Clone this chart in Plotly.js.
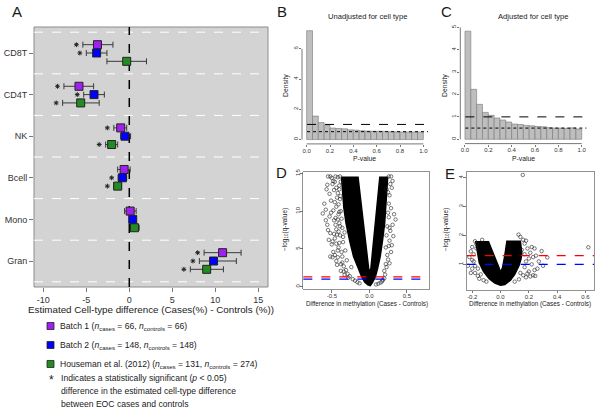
<!DOCTYPE html>
<html><head><meta charset="utf-8">
<script src="https://cdn.plot.ly/plotly-3.0.1.min.js"></script>
<style>html,body{margin:0;padding:0;background:#fff;} #chart{width:600px;height:413px;}</style>
</head><body><div id="chart"></div>
<script>
// ---------- Panel A data ----------
const cellTypes = ['CD8T','CD4T','NK','Bcell','Mono','Gran'];
const batch1Est = [-3.7, -5.85, -1.0, -0.6, 0.1, 10.85];
const batch1Lo  = [-5.4, -7.6, -1.8, -1.35, -0.55, 8.7];
const batch1Hi  = [-1.9, -4.15, -0.3, 0.1, 0.8, 13.0];
const batch1Sig = [1, 1, 1, 0, 0, 1];
const batch2Est = [-3.8, -4.1, -0.5, -0.8, 0.4, 9.8];
const batch2Lo  = [-5.0, -5.3, -1.0, -1.3, 0.05, 8.15];
const batch2Hi  = [-2.6, -2.9, 0.15, -0.3, 0.8, 12.45];
const batch2Sig = [1, 1, 0, 1, 0, 1];
const housEst = [-0.3, -5.65, -2.05, -1.35, 0.6, 9.0];
const housLo  = [-2.6, -7.75, -2.75, -1.8, 0.15, 7.1];
const housHi  = [2.0, -3.5, -1.35, -0.9, 1.15, 10.95];
const housSig = [0, 1, 1, 1, 0, 1];
const seriesNames = ['Batch 1','Batch 2','Houseman et al. (2012)'];
const seriesColors = ['#a020f0','#0000ff','#228b22'];
const nCases = [66, 148, 131];
const nControls = [66, 148, 274];

// ---------- Panels B, C data (p-value histograms) ----------
const binMid = [0.025,0.075,0.125,0.175,0.225,0.275,0.325,0.375,0.425,0.475,0.525,0.575,0.625,0.675,0.725,0.775,0.825,0.875,0.925,0.975];
const unadjDensity = [7.2, 1.55, 1.12, 0.95, 0.76, 0.73, 0.71, 0.64, 0.62, 0.58, 0.56, 0.55, 0.55, 0.54, 0.52, 0.51, 0.50, 0.50, 0.50, 0.49];
const adjDensity   = [4.83, 2.23, 1.56, 1.2, 1.07, 0.95, 0.86, 0.77, 0.68, 0.66, 0.62, 0.6, 0.57, 0.56, 0.52, 0.5, 0.5, 0.49, 0.51, 0.46];
const unadjPi0 = 0.52;
const adjPi0 = 0.5;

// ---------- Panels D, E data (volcano) ----------
const dDenseX = [-0.013,-0.06,-0.10,-0.15,-0.21,-0.26,-0.31,-0.34,-0.36,-0.37,-0.15,-0.121,-0.092,-0.068,-0.045,-0.023,-0.005,0.02,0.037,0.056,0.081,0.106,0.14,0.245,0.225,0.205,0.175,0.145,0.11,0.08,0.045,0.013,-0.013];
const dDenseY = [0.22,0.6,1.3,2.5,4.0,6.0,8.4,10.5,12.5,14.5,14.5,12.0,9.5,7.5,5.5,3.6,2.1,2.3,4.0,6.0,8.5,11.0,14.5,14.5,11.5,8.4,6.0,4.0,2.4,1.3,0.6,0.15,0.22];
const dOutX = [-0.62,-0.58,-0.55,-0.53,-0.51,-0.56,-0.52,-0.49,-0.47,-0.50,-0.48,-0.46,-0.45,-0.44,-0.43,-0.46,-0.42,-0.44,-0.41,-0.42,-0.40,-0.40,-0.39,-0.38,-0.37,-0.36,-0.35,-0.34,-0.36,-0.41,-0.47,-0.53,-0.31,-0.29,-0.26,-0.24,-0.22,-0.19,-0.16,-0.13,-0.45,-0.39,-0.50,-0.57,-0.60,-0.54,-0.49,-0.43,-0.38,-0.33,
  -0.44,-0.42,-0.40,-0.43,-0.41,-0.39,-0.42,-0.40,-0.41,-0.39,-0.42,-0.40,-0.38,-0.44,-0.46,-0.48,-0.45,-0.47,-0.44,-0.46,-0.38,-0.36,-0.35,-0.37,-0.385,-0.51,-0.49,-0.52,-0.55,-0.58,-0.48,-0.52,-0.56,-0.34,-0.28,-0.30,-0.32,-0.33,
  0.26,0.29,0.31,0.30,0.27,0.26,0.33,0.35,0.31,0.29,0.32,0.27,0.29,0.25,0.23,0.21,0.18,0.15,0.24,0.22,0.28,0.25,0.23,0.30,0.27,0.20,0.12,0.09,
  0.26,0.27,0.26,0.24,0.25,0.28,0.22,0.23,0.20,0.17];
const dOutY = [9.7,10.2,14.6,12.3,11.4,8.2,7.1,13.6,12.8,5.6,4.6,6.4,9.1,10.6,11.8,13.9,14.5,7.6,5.2,3.9,8.4,12.9,6.8,10.0,4.6,3.2,5.9,2.7,7.8,9.6,8.8,9.3,2.2,1.7,1.4,2.6,1.0,0.8,0.6,0.45,14.6,14.6,14.4,12.9,11.0,6.2,3.9,2.9,2.1,1.6,
  3.4,4.8,5.8,6.9,7.3,8.0,8.9,9.9,10.9,11.6,12.4,13.4,13.9,13.1,11.2,10.1,8.2,7.0,5.7,4.2,3.0,4.0,6.6,9.0,12.0,9.8,6.0,4.0,7.5,8.8,14.0,14.6,13.5,2.0,1.2,3.5,4.8,7.2,
  14.6,14.6,14.0,13.1,12.1,11.0,9.6,8.9,8.2,10.4,6.7,6.1,4.6,3.6,2.6,1.6,0.9,0.55,8.0,5.2,7.4,9.8,12.9,5.5,3.1,2.1,0.4,0.3,
  9.2,7.8,5.4,4.2,12.5,13.6,3.0,6.8,1.1,0.7];
const eDenseX = [0,-0.04,-0.08,-0.12,-0.15,-0.16,-0.17,-0.175,-0.085,-0.06,-0.035,-0.012,0.0,0.015,0.03,0.045,0.14,0.15,0.145,0.13,0.1,0.07,0.03,0];
const eDenseY = [0.27,0.35,0.5,0.75,1.05,1.4,1.6,1.78,1.78,1.5,1.2,0.9,0.72,0.9,1.3,1.8,1.8,1.4,1.2,0.95,0.65,0.45,0.3,0.27];
const eOutX = [-0.22,-0.21,-0.2,-0.19,-0.2,-0.18,-0.17,-0.16,-0.15,-0.12,-0.19,-0.18,-0.23,-0.21,-0.16,-0.14,-0.1,-0.18,-0.13,-0.17,-0.2,
  0.157,0.127,0.14,0.62,0.29,0.33,0.17,0.19,0.21,0.2,0.22,0.24,0.23,0.18,0.17,0.16,0.2,0.25,0.27,0.18,0.13,0.1,0.22,0.16,0.24,0.26,0.21,0.19,0.23,0.17,0.15,0.18,0.14,0.3,0.245];
const eOutY = [1.25,1.45,1.6,1.1,0.85,0.7,1.7,0.6,0.5,0.45,1.35,0.95,0.95,0.7,0.85,0.65,0.4,1.8,1.85,1.55,1.15,
  4.1,2.03,1.95,1.59,1.46,1.24,1.72,1.55,1.4,1.2,1.0,0.8,0.62,1.1,0.9,0.62,0.75,1.3,1.1,0.55,0.48,0.4,1.6,1.85,1.55,0.85,0.58,0.68,1.25,1.35,1.5,1.82,0.7,0.95,0.6];
const qThresholds = [0.05, 0.1];
const qColors = ['#ff0000','#0000ff'];

// ---------- helpers ----------
const W = 600, H = 413;
const FONT = 'Liberation Sans, Arial, Helvetica, sans-serif';
function ann(text, x, y, size, extra) {
  return Object.assign({xref:'paper', yref:'paper', x: x / W, y: 1 - y / H, text: text, showarrow:false,
    font:{size:size, color:'#1a1a1a', family:FONT}, xanchor:'center', yanchor:'middle'}, extra || {});
}
const traces = [];
const shapes = [];
const annotations = [];

// ---------- Panel A traces ----------
const ests = [batch1Est, batch2Est, housEst];
const los = [batch1Lo, batch2Lo, housLo];
const his = [batch1Hi, batch2Hi, housHi];
const sigs = [batch1Sig, batch2Sig, housSig];
const offsets = [0.2, 0, -0.2];
const nCat = cellTypes.length;
for (let s = 0; s < 3; s++) {
  const yv = cellTypes.map((c, i) => (nCat - 1 - i) + offsets[s]);
  traces.push({
    type:'scatter', mode:'markers', xaxis:'x', yaxis:'y', name: seriesNames[s],
    x: ests[s], y: yv,
    error_x: {type:'data', symmetric:false,
      array: ests[s].map((v, i) => his[s][i] - v),
      arrayminus: ests[s].map((v, i) => v - los[s][i]),
      color:'#3a3a3a', thickness:1, width:3},
    marker: {symbol:'square', size:8, color: seriesColors[s], line:{color:'#222', width:1}},
    hoverinfo:'skip'
  });
  const sx = [], sy = [];
  sigs[s].forEach((g, i) => { if (g) { sx.push(los[s][i] - 0.75); sy.push(yv[i]); } });
  traces.push({
    type:'scatter', mode:'markers', xaxis:'x', yaxis:'y', x: sx, y: sy,
    marker:{symbol:'asterisk-open', size:4, color:'#222', line:{color:'#222', width:1}}, hoverinfo:'skip'
  });
}
// Panel A background + separators + zero line
shapes.push({type:'rect', xref:'x domain', yref:'y domain', x0:0, x1:1, y0:0, y1:1,
  fillcolor:'#d3d3d3', line:{color:'#8c8c8c', width:1}, layer:'below'});
for (let k = -1; k < nCat; k++) {
  shapes.push({type:'line', xref:'x domain', yref:'y', x0:0, x1:1, y0:k + 0.5, y1:k + 0.5,
    line:{color:'#ffffff', width:1, dash:'dash'}, layer:'below'});
}
shapes.push({type:'line', xref:'x', yref:'y domain', x0:0, x1:0, y0:0, y1:1,
  line:{color:'#000', width:1.5, dash:'dash'}, layer:'below'});

// ---------- Panels B, C ----------
const histCfg = [
  {ax:'2', dens: unadjDensity, pi0: unadjPi0, yTop: 6},
  {ax:'3', dens: adjDensity, pi0: adjPi0, yTop: 5}
];
histCfg.forEach(h => {
  traces.push({type:'bar', xaxis:'x' + h.ax, yaxis:'y' + h.ax, x: binMid, y: h.dens, width:0.05,
    marker:{color:'#bebebe', line:{color:'#777', width:0.6}}, hoverinfo:'skip'});
  shapes.push({type:'line', xref:'x' + h.ax, yref:'y' + h.ax + ' domain', x0:0, x1:1, y0:0, y1:0, line:{color:'#555', width:0.8}});
  shapes.push({type:'line', xref:'x' + h.ax + ' domain', yref:'y' + h.ax, x0:0, x1:0, y0:0, y1:h.yTop, line:{color:'#555', width:0.8}});
  shapes.push({type:'line', xref:'x' + h.ax + ' domain', yref:'y' + h.ax, x0:0.04, x1:1, y0:1, y1:1, line:{color:'#000', width:1, dash:'dash'}});
  shapes.push({type:'line', xref:'x' + h.ax + ' domain', yref:'y' + h.ax, x0:0.04, x1:1, y0:h.pi0, y1:h.pi0, line:{color:'#000', width:1, dash:'dot'}});
});

// ---------- Panels D, E ----------
const volCfg = [
  {ax:'4', dx: dDenseX, dy: dDenseY, ox: dOutX, oy: dOutY},
  {ax:'5', dx: eDenseX, dy: eDenseY, ox: eOutX, oy: eOutY}
];
volCfg.forEach(v => {
  traces.push({type:'scatter', mode:'lines', xaxis:'x' + v.ax, yaxis:'y' + v.ax, x: v.dx, y: v.dy,
    fill:'toself', fillcolor:'#000', line:{color:'#000', width:1.5}, hoverinfo:'skip'});
  traces.push({type:'scatter', mode:'markers', xaxis:'x' + v.ax, yaxis:'y' + v.ax, x: v.ox, y: v.oy,
    marker:{symbol:'circle-open', size:3.5, color:'#222', line:{width:0.6, color:'#222'}}, hoverinfo:'skip'});
  qThresholds.forEach((q, i) => {
    const yq = -Math.log10(q);
    shapes.push({type:'line', xref:'x' + v.ax + ' domain', yref:'y' + v.ax, x0:0, x1:1, y0:yq, y1:yq,
      line:{color: qColors[i], width:1.2, dash:'dash'}});
  });
});

// ---------- axes ----------
const tickBase = {showgrid:false, zeroline:false, ticks:'outside', ticklen:2.5, tickcolor:'#555', tickwidth:0.8,
  tickfont:{size:6, color:'#333', family:FONT}, fixedrange:true, ticklabelstandoff:-2};
const layout = {
  width: W, height: H, margin:{l:0, r:0, t:0, b:0}, showlegend:false,
  paper_bgcolor:'#fff', plot_bgcolor:'rgba(0,0,0,0)', font:{family:FONT},
  xaxis: Object.assign({}, tickBase, {domain:[34/W, 268/W], range:[-11.08, 16.13], anchor:'y', ticklabelstandoff:0,
    tickvals:[-10,-5,0,5,10,15], ticktext:['-10','-5','0','5','10','15'], tickfont:{size:9, color:'#333', family:FONT}, ticklen:4, showline:false}),
  yaxis: Object.assign({}, tickBase, {domain:[1-287/H, 1-27/H], range:[-0.625, 5.625], anchor:'x', ticklabelstandoff:0,
    tickvals: cellTypes.map((c, i) => nCat - 1 - i), ticktext: cellTypes, tickfont:{size:9, color:'#333', family:FONT}, ticklen:4, showline:false}),
  xaxis2: Object.assign({}, tickBase, {domain:[302/W, 428/W], range:[-0.04, 1.04], anchor:'y2',
    tickvals:[0,0.2,0.4,0.6,0.8,1], ticktext:['0.0','0.2','0.4','0.6','0.8','1.0'], showline:false}),
  yaxis2: Object.assign({}, tickBase, {domain:[1-143.9/H, 1-26.3/H], range:[-0.288, 7.49], anchor:'x2',
    tickvals:[0,2,4,6], tickangle:-90, showline:false}),
  xaxis3: Object.assign({}, tickBase, {domain:[460.3/W, 586.4/W], range:[-0.04, 1.04], anchor:'y3',
    tickvals:[0,0.2,0.4,0.6,0.8,1], ticktext:['0.0','0.2','0.4','0.6','0.8','1.0'], showline:false}),
  yaxis3: Object.assign({}, tickBase, {domain:[1-143.6/H, 1-26.9/H], range:[-0.193, 5.02], anchor:'x3',
    tickvals:[0,1,2,3,4,5], tickangle:-90, showline:false}),
  xaxis4: Object.assign({}, tickBase, {domain:[303.3/W, 429.3/W], range:[-0.88, 0.8], anchor:'y4',
    tickvals:[-0.5,0,0.5], ticktext:['-0.5','0.0','0.5'], showline:true, mirror:true, linecolor:'#777', linewidth:0.8}),
  yaxis4: Object.assign({}, tickBase, {domain:[1-289.3/H, 1-171.7/H], range:[-0.34, 15.23], anchor:'x4',
    tickvals:[0,5,10,15], tickangle:-90, showline:true, mirror:true, linecolor:'#777', linewidth:0.8}),
  xaxis5: Object.assign({}, tickBase, {domain:[466.7/W, 594/W], range:[-0.239, 0.66], anchor:'y5',
    tickvals:[-0.2,0,0.2,0.4,0.6], ticktext:['-0.2','0.0','0.2','0.4','0.6'], showline:true, mirror:true, linecolor:'#777', linewidth:0.8}),
  yaxis5: Object.assign({}, tickBase, {domain:[1-290/H, 1-172.3/H], range:[0.11, 4.19], anchor:'x5',
    tickvals:[1,2,3,4], tickangle:-90, showline:true, mirror:true, linecolor:'#777', linewidth:0.8}),
  shapes: shapes,
  annotations: annotations
};

// ---------- text ----------
annotations.push(ann('A', 17, 12, 15));
annotations.push(ann('B', 282, 12, 15));
annotations.push(ann('C', 446, 12, 15));
annotations.push(ann('D', 281, 172, 15));
annotations.push(ann('E', 450, 174, 15));
annotations.push(ann('Estimated Cell-type difference (Cases(%) - Controls (%))', 151, 309, 9.8));
annotations.push(ann('Unadjusted for cell type', 367, 17, 7.6));
annotations.push(ann('Adjusted for cell type', 533, 17, 7.6));
annotations.push(ann('Density', 286, 86, 6.8, {textangle:-90}));
annotations.push(ann('Density', 445, 86, 6.8, {textangle:-90}));
annotations.push(ann('P-value', 365, 158, 6.8));
annotations.push(ann('P-value', 523, 158, 6.8));
annotations.push(ann('Difference in methylation (Cases - Controls)', 367, 304, 6.3));
annotations.push(ann('Difference in methylation (Cases - Controls)', 530, 304, 6.3));
annotations.push(ann('\u2212log<sub>10</sub>(q-value)', 285, 230, 6.5, {textangle:-90}));
annotations.push(ann('\u2212log<sub>10</sub>(q-value)', 446, 230, 6.5, {textangle:-90}));

// legend of panel A
const legRows = [326, 345, 364];
for (let s = 0; s < 3; s++) {
  shapes.push({type:'rect', xref:'paper', yref:'paper', x0:47/W, x1:54/W, y0:1-(legRows[s]+3.5)/H, y1:1-(legRows[s]-3.5)/H,
    fillcolor: seriesColors[s], line:{color:'#222', width:0.8}});
  annotations.push(ann(seriesNames[s] + ' (<i>n</i><sub>cases</sub> = ' + nCases[s] + ', <i>n</i><sub>controls</sub> = ' + nControls[s] + ')',
    58, legRows[s], 8.6, {xanchor:'left'}));
}
annotations.push(ann('*', 51, 380, 12));
annotations.push(ann('Indicates a statistically significant (<i>p</i> &lt; 0.05)', 59, 378, 8.6, {xanchor:'left'}));
annotations.push(ann('difference in the estimated cell-type difference', 59, 391, 8.6, {xanchor:'left'}));
annotations.push(ann('between EOC cases and controls', 59, 404, 8.6, {xanchor:'left'}));

Plotly.newPlot('chart', traces, layout, {staticPlot:true, displayModeBar:false});
</script>
</body></html>
